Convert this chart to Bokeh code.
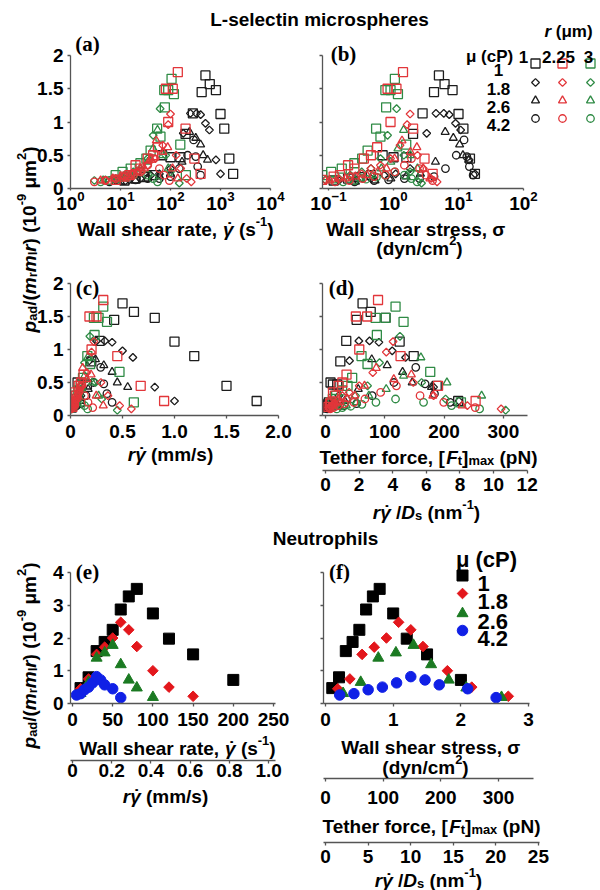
import math
from bokeh.plotting import figure
from bokeh.layouts import row, column
from bokeh.models import Range1d, LinearAxis, Label, FixedTicker, CustomJSTickFormatter, Spacer
from bokeh.embed import file_html
from bokeh.resources import INLINE

# ============================ DATA ============================
# L-selectin microspheres: bead radius r (um) and medium viscosity mu (cP)
MS_R = [1, 2.25, 3]
MS_MU = [1, 1.8, 2.6, 4.2]
# wall shear rate (1/s) and p_ad/(m_r m_l r) (1e-9 um^2) for each (r, mu)
r1_mu1_gd = [12, 20, 30, 45, 68, 100, 158, 200, 280, 420, 500, 610, 810, 1000, 1190, 1500, 1790]
r1_mu1_p = [0.12, 0.15, 0.17, 0.2, 0.5, 0.47, 0.47, 0.82, 1.13, 1.45, 1.7, 1.57, 1.48, 1.12, 0.9, 0.45, 0.22]
r1_mu18_gd = [8, 15, 25, 40, 60, 100, 180, 250, 330, 400, 500, 600, 810, 1000]
r1_mu18_p = [0.12, 0.13, 0.15, 0.2, 0.22, 0.3, 0.83, 1.13, 1.13, 1.11, 0.98, 0.88, 0.43, 0.22]
r1_mu26_gd = [10, 20, 35, 60, 100, 170, 240, 320, 400, 450, 550]
r1_mu26_p = [0.1, 0.12, 0.15, 0.18, 0.22, 0.4, 0.85, 0.76, 0.66, 0.5, 0.43]
r1_mu42_gd = [6, 12, 20, 35, 60, 100, 150, 220, 290, 320, 350, 400]
r1_mu42_p = [0.1, 0.12, 0.13, 0.15, 0.15, 0.18, 0.3, 0.5, 0.73, 0.48, 0.33, 0.2]

r2_mu1_gd = [8, 12, 15, 20, 25, 35, 45, 56, 81, 90, 111, 140, 200, 300, 400]
r2_mu1_p = [0.13, 0.18, 0.2, 0.35, 0.3, 0.45, 0.5, 0.62, 1.5, 1.0, 1.5, 1.75, 0.9, 0.45, 0.22]
r2_mu18_gd = [5, 8, 12, 18, 25, 35, 50, 70, 90, 100, 130, 160, 210, 260]
r2_mu18_p = [0.12, 0.14, 0.18, 0.22, 0.3, 0.35, 0.45, 0.65, 0.96, 1.12, 0.5, 0.3, 0.15, 0.1]
r2_mu26_gd = [4, 7, 10, 15, 22, 30, 40, 52, 70, 88, 110, 140]
r2_mu26_p = [0.12, 0.15, 0.18, 0.2, 0.25, 0.3, 0.45, 0.72, 0.55, 0.62, 0.3, 0.15]
r2_mu42_gd = [3, 5, 8, 12, 18, 25, 35, 45, 60, 75, 95]
r2_mu42_p = [0.1, 0.12, 0.15, 0.18, 0.2, 0.25, 0.35, 0.45, 0.3, 0.2, 0.12]

r3_mu1_gd = [8, 11, 16, 25, 33, 40, 54, 63, 75, 77, 90, 105, 117, 157, 203]
r3_mu1_p = [0.2, 0.25, 0.3, 0.38, 0.45, 0.57, 0.9, 0.78, 1.48, 1.22, 1.48, 1.65, 1.42, 0.66, 0.2]
r3_mu18_gd = [3, 5, 8, 12, 18, 25, 35, 45, 62, 80, 100, 150]
r3_mu18_p = [0.12, 0.13, 0.15, 0.2, 0.25, 0.3, 0.45, 0.8, 1.2, 0.5, 0.25, 0.08]
r3_mu26_gd = [4.5, 8, 12, 18, 25, 35, 45, 55, 70, 90]
r3_mu26_p = [0.12, 0.13, 0.15, 0.2, 0.3, 0.4, 0.6, 0.88, 0.5, 0.3]
r3_mu42_gd = [4, 6, 9, 13, 18, 25, 35, 45, 55]
r3_mu42_p = [0.1, 0.12, 0.14, 0.17, 0.2, 0.25, 0.2, 0.15, 0.1]

MS_DATA = {
    (1, 1): (r1_mu1_gd, r1_mu1_p), (1, 1.8): (r1_mu18_gd, r1_mu18_p),
    (1, 2.6): (r1_mu26_gd, r1_mu26_p), (1, 4.2): (r1_mu42_gd, r1_mu42_p),
    (2.25, 1): (r2_mu1_gd, r2_mu1_p), (2.25, 1.8): (r2_mu18_gd, r2_mu18_p),
    (2.25, 2.6): (r2_mu26_gd, r2_mu26_p), (2.25, 4.2): (r2_mu42_gd, r2_mu42_p),
    (3, 1): (r3_mu1_gd, r3_mu1_p), (3, 1.8): (r3_mu18_gd, r3_mu18_p),
    (3, 2.6): (r3_mu26_gd, r3_mu26_p), (3, 4.2): (r3_mu42_gd, r3_mu42_p),
}
MS_FT_COEF = 12.5              # tether force (pN) per (dyn/cm2 * um2)
MS_DS_PER_FT = 12.02 / 340.6   # r*gd/Ds (1/nm) per pN, panel (d)

# Neutrophils
NE_MU = [1, 1.8, 2.6, 4.2]
ne_mu1_gd = [10, 20, 30, 40, 50, 60, 70, 80, 100, 120, 150, 200]
ne_mu1_p = [0.47, 0.8, 1.6, 1.88, 2.25, 2.87, 3.27, 3.5, 2.75, 1.98, 1.5, 0.72]
ne_mu18_gd = [10, 20, 30, 40, 50, 60, 70, 80, 100, 120, 150]
ne_mu18_p = [0.45, 0.75, 1.5, 1.72, 2.0, 2.48, 2.25, 1.74, 1.0, 0.5, 0.22]
ne_mu26_gd = [10, 20, 30, 40, 50, 60, 70, 80, 100]
ne_mu26_p = [0.31, 0.65, 1.39, 1.55, 1.78, 1.19, 0.72, 0.48, 0.19]
ne_mu42_gd = [5, 10, 15, 20, 25, 30, 35, 40, 50, 60]
ne_mu42_p = [0.26, 0.3, 0.42, 0.5, 0.63, 0.82, 0.72, 0.57, 0.45, 0.18]
NE_DATA = {1: (ne_mu1_gd, ne_mu1_p), 1.8: (ne_mu18_gd, ne_mu18_p),
           2.6: (ne_mu26_gd, ne_mu26_p), 4.2: (ne_mu42_gd, ne_mu42_p)}
NE_RGD_PER_GD = 0.0041     # mm/s per 1/s
NE_FT_PER_SIGMA = 117.4    # pN per dyn/cm2
NE_DS_PER_SIGMA = 7.95     # 1/nm per dyn/cm2

# tick values
A_XTICKS = [1, 10, 100, 1000, 10000]
B_XTICKS = [0.1, 1, 10, 100]
P_TICKS = [0, 0.5, 1, 1.5, 2]
C_XTICKS = [0, 0.5, 1.0, 1.5, 2.0]
D_XTICKS = [0, 100, 200, 300]
D_X2TICKS = [0, 2, 4, 6, 8, 10, 12]
E_XTICKS = [0, 50, 100, 150, 200, 250]
E_X2TICKS = [0, 0.2, 0.4, 0.6, 0.8, 1.0]
NE_YTICKS = [0, 1, 2, 3, 4]
F_XTICKS = [0, 1, 2, 3]
F_X2TICKS = [0, 100, 200, 300]
F_X3TICKS = [0, 5, 10, 15, 20, 25]

# ============================ STYLE ============================
MS_COLOR = {1: "#1c1c1c", 2.25: "#e2363a", 3: "#2f8b45"}
MS_MARK = {1: dict(marker="square", size=9, angle=0.0),
           1.8: dict(marker="square", size=5.5, angle=math.pi / 4),
           2.6: dict(marker="triangle", size=8, angle=0.0),
           4.2: dict(marker="circle", size=7.5, angle=0.0)}
NE_STYLE = {1: dict(marker="square", size=11, angle=0.0, color="#000000"),
            1.8: dict(marker="square", size=7.5, angle=math.pi / 4, color="#e3171c"),
            2.6: dict(marker="triangle", size=11, angle=0.0, color="#1b7a22"),
            4.2: dict(marker="circle", size=10.5, angle=0.0, color="#1020e6")}
AXC = "#555555"
FONT = "Liberation Sans"
TICK_FS = "19px"
FS = 19

AW = {' ': 278, '(': 333, ')': 333, ',': 278, '-': 333, '.': 278, '/': 278, '[': 333, ']': 333,
      'A': 722, 'C': 722, 'D': 722, 'F': 611, 'L': 611, 'N': 722, 'P': 667, 'T': 611, 'W': 944,
      'a': 556, 'b': 611, 'c': 556, 'd': 611, 'e': 556, 'f': 333, 'g': 611, 'h': 611, 'i': 278,
      'l': 278, 'm': 889, 'n': 611, 'o': 611, 'p': 611, 'r': 389, 's': 556, 't': 333, 'u': 611,
      'w': 778, 'x': 556, 'y': 556, 'γ': 556, 'σ': 617, 'μ': 611, '˙': 333}
for _d in "0123456789":
    AW[_d] = 556
SERIF_W = {'(': 333, ')': 333, 'a': 500, 'b': 556, 'c': 444, 'd': 556, 'e': 444, 'f': 333}
KINDS = {'b': ('bold', 1.0, 0.0), 'bi': ('bold italic', 1.0, 0.0),
         'sub': ('bold', 0.68, -0.17), 'sup': ('bold', 0.68, 0.40)}

PAGE_W, PAGE_H = 600, 890

# ---- overlay figure for all texts (page pixel coordinates, y downwards) ----
ov = figure(width=PAGE_W, height=PAGE_H, x_range=Range1d(0, PAGE_W), y_range=Range1d(PAGE_H, 0),
            x_axis_type=None, y_axis_type=None, output_backend="svg", toolbar_location=None,
            tools="", min_border=0, title=None, margin=(-PAGE_H, 0, 0, 0))
ov.outline_line_color = None
ov.background_fill_color = None
ov.border_fill_color = None


def tw(s, size, table):
    return sum(table.get(c, 556) for c in s) * size / 1000.0


def rich(cx, cy, pieces, F, vertical=False, font=FONT, vc=0.36, align='center', table=AW):
    items, adv = [], 0.0
    for txt, kind in pieces:
        if kind == 'dot':
            pa, pw = items[-1][2], items[-1][3]
            items.append((txt, kind, pa + pw / 2 + 0.07 * F, 0.0))
            continue
        size = F * KINDS[kind][1]
        stripped = txt.lstrip(' ')
        lead = tw(txt[:len(txt) - len(stripped)], size, table)
        w = tw(stripped, size, table)
        items.append((stripped, kind, adv + lead, w))
        adv += lead + w
    start = {'center': -adv / 2, 'left': 0.0, 'right': -adv}[align]
    for txt, kind, a, w in items:
        if kind == 'dot':
            st, sf, rf, ta = 'bold', 1.0, 0.0, 'center'
        else:
            st, sf, rf = KINDS[kind]
            ta = 'left'
        off = start + a
        rise = rf * F
        if not vertical:
            rx, ry, ang = cx + off, cy + vc * F - rise, 0.0
        else:
            rx, ry, ang = cx + vc * F - rise, cy - off, math.pi / 2
        ov.add_layout(Label(x=rx, y=ry, text=txt, text_font=font,
                            text_font_size="%.2fpx" % (F * sf), text_font_style=st,
                            text_align=ta, text_baseline='alphabetic', angle=ang,
                            text_color="black"))


def panel_letter(cx, cy, letter):
    rich(cx, cy, [("(%s)" % letter, 'b')], 21, font="Liberation Serif", vc=0.25, table=SERIF_W)


def style_axis(ax, out=3, standoff=6, labels=True):
    ax.axis_line_color = AXC
    ax.axis_line_width = 1.3
    ax.major_tick_line_color = AXC
    ax.major_tick_line_width = 1.3
    ax.major_tick_in = 0
    ax.major_tick_out = out
    ax.minor_tick_line_color = None
    ax.major_label_standoff = standoff
    ax.major_label_text_font = FONT
    ax.major_label_text_font_style = "bold"
    ax.major_label_text_font_size = TICK_FS
    ax.major_label_text_color = "black"
    if not labels:
        ax.formatter = CustomJSTickFormatter(code="return ''")


def spacer_label(ax, gap):
    ax.axis_label = " "
    ax.axis_label_text_font_size = "1px"
    ax.axis_label_standoff = gap


def plot_fig(W, H, L, R, T, B, xr, yr, xlog=False):
    p = figure(width=W, height=H, x_range=xr, y_range=yr,
               x_axis_type="log" if xlog else "linear", output_backend="svg",
               toolbar_location=None, tools="", title=None,
               min_border_left=L, min_border_right=R, min_border_top=T, min_border_bottom=B)
    p.outline_line_color = None
    p.xgrid.visible = False
    p.ygrid.visible = False
    if xlog:
        style_axis(p.xaxis[0], out=2, standoff=0)
    else:
        style_axis(p.xaxis[0])
    style_axis(p.yaxis[0], out=3, standoff=4)
    return p


num_fmt = CustomJSTickFormatter(code="return String(tick)")
dec_fmt = CustomJSTickFormatter(code="return tick == 0 ? '0' : tick.toFixed(1)")

YLAB = [('p', 'bi'), ('ad', 'sub'), ('/(', 'b'), ('m', 'bi'), ('r', 'sub'), ('m', 'bi'),
        ('l', 'sub'), ('r', 'bi'), (') (10', 'b'), ('-9', 'sup'), (' μm', 'b'), ('2', 'sup'), (')', 'b')]
L_RATE = [('Wall shear rate, ', 'b'), ('γ', 'bi'), ('˙', 'dot'), (' (s', 'b'), ('-1', 'sup'), (')', 'b')]
L_STRESS = [('Wall shear stress, σ', 'b')]
L_DYN = [('(dyn/cm', 'b'), ('2', 'sup'), (')', 'b')]
L_RGD = [('r', 'bi'), ('γ', 'bi'), ('˙', 'dot'), (' (mm/s)', 'b')]
L_FT = [('Tether force, [', 'b'), ('F', 'bi'), ('t', 'sub'), (']', 'b'), ('max', 'sub'), (' (pN)', 'b')]
L_DS = [('r', 'bi'), ('γ', 'bi'), ('˙', 'dot'), (' /', 'b'), ('D', 'bi'), ('s', 'sub'),
        (' (nm', 'b'), ('-1', 'sup'), (')', 'b')]


def ms_x(r, mu, gd, kind):
    if kind == 'gd':
        return list(gd)
    if kind == 'sigma':
        return [mu * v / 100.0 for v in gd]
    if kind == 'rgd':
        return [r * v / 1000.0 for v in gd]
    return [MS_FT_COEF * mu * v / 100.0 * r * r for v in gd]


def draw_ms(p, kind):
    for r in [1, 3, 2.25]:
        for mu in MS_MU:
            gd, pp = MS_DATA[(r, mu)]
            m = MS_MARK[mu]
            p.scatter(ms_x(r, mu, gd, kind), pp, marker=m["marker"], size=m["size"], angle=m["angle"],
                      line_color=MS_COLOR[r], fill_color=None, line_width=1.3)


def draw_ne(p, kind):
    for mu in NE_MU:
        gd, pp = NE_DATA[mu]
        s = NE_STYLE[mu]
        xs = list(gd) if kind == 'gd' else [mu * v / 100.0 for v in gd]
        p.scatter(xs, pp, marker=s["marker"], size=s["size"], angle=s["angle"],
                  line_color=s["color"], fill_color=s["color"], line_width=1)


# ============================ PANELS ============================
# (a)
fa = plot_fig(266, 225, 36, 30, 22, 70, Range1d(1, 1e4), Range1d(0, 2), xlog=True)
fa.xaxis.ticker = FixedTicker(ticks=A_XTICKS)
fa.yaxis.ticker = FixedTicker(ticks=P_TICKS)
fa.yaxis.formatter = num_fmt
draw_ms(fa, 'gd')

# (b)
b_lo = -1.0923
b_hi = b_lo + 203 / 65.0
fb = plot_fig(300, 225, 22, 75, 22, 70, Range1d(10 ** b_lo, 10 ** b_hi), Range1d(0, 2), xlog=True)
fb.xaxis.ticker = FixedTicker(ticks=B_XTICKS)
fb.xaxis.bounds = (10 ** b_lo, 100)
fb.yaxis.ticker = FixedTicker(ticks=P_TICKS)
style_axis(fb.yaxis[0], labels=False)
draw_ms(fb, 'sigma')

# (c)
fc = plot_fig(266, 262, 36, 22, 25, 105, Range1d(0, 2.0), Range1d(0, 2))
fc.xaxis.ticker = FixedTicker(ticks=C_XTICKS)
fc.xaxis.formatter = dec_fmt
fc.yaxis.ticker = FixedTicker(ticks=P_TICKS)
fc.yaxis.formatter = num_fmt
draw_ms(fc, 'rgd')

# (d)
d_lo = -3 / 0.593
d_hi = 202 / 0.593
fd = plot_fig(300, 262, 22, 73, 25, 105, Range1d(d_lo, d_hi), Range1d(0, 2))
fd.xaxis.ticker = FixedTicker(ticks=D_XTICKS)
fd.yaxis.ticker = FixedTicker(ticks=P_TICKS)
style_axis(fd.yaxis[0], labels=False)
spacer_label(fd.xaxis[0], 26)
fd.extra_x_ranges = {"ds": Range1d(d_lo * MS_DS_PER_FT, d_hi * MS_DS_PER_FT)}
ax_d2 = LinearAxis(x_range_name="ds", ticker=FixedTicker(ticks=D_X2TICKS))
style_axis(ax_d2, out=3, standoff=4)
fd.add_layout(ax_d2, "below")
draw_ms(fd, 'ft')

# (e)
e_lo = -2 / 0.804
e_hi = e_lo + 205 / 0.804
fe = plot_fig(266, 348, 36, 25, 30, 187, Range1d(e_lo, e_hi), Range1d(0, 4))
fe.xaxis.ticker = FixedTicker(ticks=E_XTICKS)
fe.yaxis.ticker = FixedTicker(ticks=NE_YTICKS)
fe.yaxis.formatter = num_fmt
spacer_label(fe.xaxis[0], 28)
fe.extra_x_ranges = {"rg": Range1d(e_lo * NE_RGD_PER_GD, e_hi * NE_RGD_PER_GD)}
ax_e2 = LinearAxis(x_range_name="rg", ticker=FixedTicker(ticks=E_X2TICKS), formatter=dec_fmt)
style_axis(ax_e2, out=3, standoff=0)
fe.add_layout(ax_e2, "below")
draw_ne(fe, 'gd')

# (f)
f_lo = -2 / 67.7
f_hi = f_lo + 217 / 67.7
ff = plot_fig(300, 348, 23, 60, 30, 187, Range1d(f_lo, f_hi), Range1d(0, 4))
ff.xaxis.ticker = FixedTicker(ticks=F_XTICKS)
ff.xaxis.bounds = (f_lo, 3.02)
ff.yaxis.ticker = FixedTicker(ticks=NE_YTICKS)
style_axis(ff.yaxis[0], labels=False)
spacer_label(ff.xaxis[0], 46)
ff.extra_x_ranges = {"ft": Range1d(f_lo * NE_FT_PER_SIGMA, f_hi * NE_FT_PER_SIGMA),
                     "ds": Range1d(f_lo * NE_DS_PER_SIGMA, f_hi * NE_DS_PER_SIGMA)}
ax_f2 = LinearAxis(x_range_name="ft", ticker=FixedTicker(ticks=F_X2TICKS))
style_axis(ax_f2, out=3, standoff=9)
ax_f2.bounds = (f_lo * NE_FT_PER_SIGMA, 360)
spacer_label(ax_f2, 32)
ff.add_layout(ax_f2, "below")
ax_f3 = LinearAxis(x_range_name="ds", ticker=FixedTicker(ticks=F_X3TICKS))
style_axis(ax_f3, out=3, standoff=4)
ax_f3.bounds = (f_lo * NE_DS_PER_SIGMA, 25.1)
ff.add_layout(ax_f3, "below")
draw_ne(ff, 'sigma')

# ============================ TEXTS (overlay) ============================
rich(319, 12.5, [("L-selectin microspheres", 'b')], FS)
rich(325, 531.5, [("Neutrophils", 'b')], FS)
rich(22, 239, YLAB, FS, vertical=True)
rich(22, 655, YLAB, FS, vertical=True)
panel_letter(87, 38.5, 'a')
panel_letter(343, 48, 'b')
panel_letter(87, 282, 'c')
panel_letter(341, 282, 'd')
panel_letter(87, 566, 'e')
panel_letter(339, 566, 'f')
rich(175, 222, L_RATE, FS)
rich(415, 222, L_STRESS, FS)
rich(419, 241, L_DYN, FS)
rich(170, 447, L_RGD, FS)
rich(428, 450, L_FT, FS)
rich(426, 505, L_DS, FS)
rich(177, 741, L_RATE, FS)
rich(165, 789, L_RGD, FS)
rich(430, 740, L_STRESS, FS)
rich(425, 760, L_DYN, FS)
rich(431, 819, L_FT, FS)
rich(428, 873, L_DS, FS)

# legend of microsphere panels
rich(568, 25, [('r', 'bi'), (' (μm)', 'b')], 17)
rich(489, 50, [('μ (cP)', 'b')], 17)
leg_cols_x = [535, 562, 590]
leg_head_x = [523, 558, 588]
leg_rows_y = [63, 82, 100, 118]
for j, r in enumerate(MS_R):
    rich(leg_head_x[j], 50, [(str(r), 'b')], 17)
for i, mu in enumerate(MS_MU):
    rich(498, leg_rows_y[i], [(str(mu), 'b')], 17)
    m = MS_MARK[mu]
    ov.scatter(leg_cols_x, [leg_rows_y[i]] * 3, marker=m["marker"], size=m["size"], angle=m["angle"],
               line_color=[MS_COLOR[r] for r in MS_R], fill_color=None, line_width=1.3)

# legend of neutrophil panels
rich(486, 551, [('μ (cP)', 'b')], 22)
ne_leg_y = [575, 593, 613, 630]
for i, mu in enumerate(NE_MU):
    s = NE_STYLE[mu]
    ov.scatter([462], [ne_leg_y[i]], marker=s["marker"], size=s["size"], angle=-s["angle"],
               line_color=s["color"], fill_color=s["color"])
    rich(477, ne_leg_y[i], [(str(mu), 'b')], 22, align='left')

# ============================ LAYOUT ============================
grid = column(
    Spacer(width=PAGE_W, height=33),
    row(Spacer(width=34, height=225), fa, fb),
    row(Spacer(width=34, height=262), fc, fd),
    Spacer(width=PAGE_W, height=22),
    row(Spacer(width=34, height=348), fe, ff),
)
layout = column(grid, ov)

open("out.html", "w").write(file_html(layout, INLINE))
